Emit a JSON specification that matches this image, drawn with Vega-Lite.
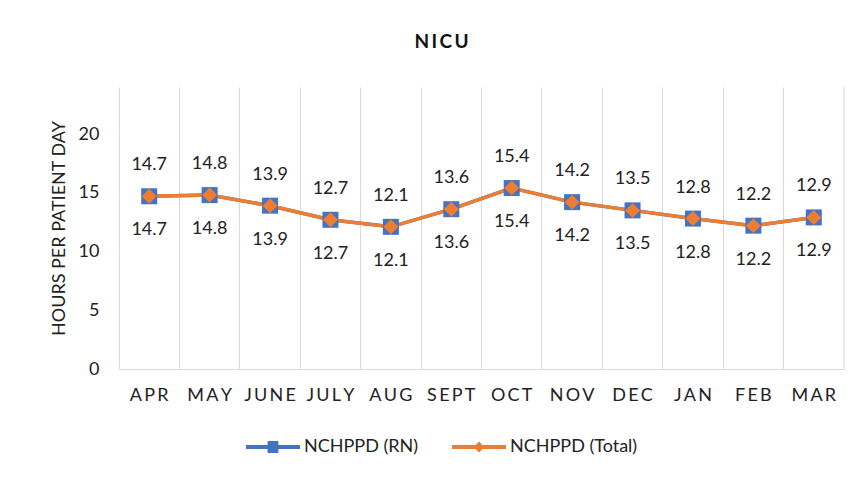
{
  "$schema": "https://vega.github.io/schema/vega-lite/v6.json",
  "autosize": "none",
  "width": 725,
  "height": 282,
  "padding": {"left": 119, "top": 87, "right": 21, "bottom": 110},
  "background": "white",
  "config": {
    "font": "Lato",
    "view": {"stroke": null},
    "axis": {"labelFont": "Lato", "titleFont": "Lato", "labelColor": "#222222", "titleColor": "#222222"}
  },
  "title": {
    "text": "N\u2009I\u2009C\u2009U",
    "font": "Lato",
    "fontSize": 19,
    "fontWeight": "bold",
    "color": "#111111",
    "anchor": "middle",
    "baseline": "alphabetic",
    "offset": 20,
    "dx": -40
  },
  "data": {
    "values": [
      {"month": "APR", "series": "NCHPPD (RN)", "value": 14.7},
      {"month": "MAY", "series": "NCHPPD (RN)", "value": 14.8},
      {"month": "JUNE", "series": "NCHPPD (RN)", "value": 13.9},
      {"month": "JULY", "series": "NCHPPD (RN)", "value": 12.7},
      {"month": "AUG", "series": "NCHPPD (RN)", "value": 12.1},
      {"month": "SEPT", "series": "NCHPPD (RN)", "value": 13.6},
      {"month": "OCT", "series": "NCHPPD (RN)", "value": 15.4},
      {"month": "NOV", "series": "NCHPPD (RN)", "value": 14.2},
      {"month": "DEC", "series": "NCHPPD (RN)", "value": 13.5},
      {"month": "JAN", "series": "NCHPPD (RN)", "value": 12.8},
      {"month": "FEB", "series": "NCHPPD (RN)", "value": 12.2},
      {"month": "MAR", "series": "NCHPPD (RN)", "value": 12.9},
      {"month": "APR", "series": "NCHPPD (Total)", "value": 14.7},
      {"month": "MAY", "series": "NCHPPD (Total)", "value": 14.8},
      {"month": "JUNE", "series": "NCHPPD (Total)", "value": 13.9},
      {"month": "JULY", "series": "NCHPPD (Total)", "value": 12.7},
      {"month": "AUG", "series": "NCHPPD (Total)", "value": 12.1},
      {"month": "SEPT", "series": "NCHPPD (Total)", "value": 13.6},
      {"month": "OCT", "series": "NCHPPD (Total)", "value": 15.4},
      {"month": "NOV", "series": "NCHPPD (Total)", "value": 14.2},
      {"month": "DEC", "series": "NCHPPD (Total)", "value": 13.5},
      {"month": "JAN", "series": "NCHPPD (Total)", "value": 12.8},
      {"month": "FEB", "series": "NCHPPD (Total)", "value": 12.2},
      {"month": "MAR", "series": "NCHPPD (Total)", "value": 12.9}
    ]
  },
  "encoding": {
    "x": {
      "field": "month",
      "type": "ordinal",
      "sort": ["APR", "MAY", "JUNE", "JULY", "AUG", "SEPT", "OCT", "NOV", "DEC", "JAN", "FEB", "MAR"],
      "scale": {"paddingInner": 0, "paddingOuter": 0},
      "axis": {
        "title": null,
        "labelAngle": 0,
        "labelFontSize": 18,
        "labelPadding": 17,
        "labelExpr": "join(split(datum.label, ''), '\u2009')",
        "ticks": false,
        "domainColor": "#d9d9d9",
        "domainWidth": 1,
        "grid": true,
        "gridColor": "#d9d9d9",
        "gridWidth": 1,
        "bandPosition": 0
      }
    },
    "y": {
      "field": "value",
      "type": "quantitative",
      "scale": {"domain": [0, 24], "nice": false},
      "axis": {
        "title": "HOURS PER PATIENT DAY",
        "titleFontSize": 18,
        "titleFontWeight": "normal",
        "titlePadding": 10,
        "values": [0, 5, 10, 15, 20],
        "labelFontSize": 18,
        "labelPadding": 20,
        "ticks": false,
        "domain": false,
        "grid": false
      }
    }
  },
  "layer": [
    {
      "transform": [{"filter": "datum.month === 'MAR' && datum.series === 'NCHPPD (RN)'"}],
      "mark": {"type": "rule", "color": "#d9d9d9", "strokeWidth": 1},
      "encoding": {
        "x": {"field": "month", "type": "ordinal", "sort": ["APR", "MAY", "JUNE", "JULY", "AUG", "SEPT", "OCT", "NOV", "DEC", "JAN", "FEB", "MAR"], "bandPosition": 1},
        "y": null
      }
    },
    {
      "mark": {"type": "line", "strokeWidth": 3.5},
      "encoding": {
        "color": {
          "field": "series",
          "type": "nominal",
          "scale": {"domain": ["NCHPPD (RN)", "NCHPPD (Total)"], "range": ["#4472C4", "#ED7D31"]},
          "legend": {
            "title": null,
            "orient": "none",
            "direction": "horizontal",
            "legendX": 127,
            "legendY": 333,
            "padding": 0,
            "symbolSize": 2916,
            "labelFontSize": 18,
            "labelFont": "Lato",
            "labelColor": "#222222",
            "labelOffset": 4,
            "columnPadding": 33,
            "encode": {
              "symbols": {
                "update": {
                  "shape": {"signal": "datum.value === 'NCHPPD (RN)' ? 'M-1,-0.075H1V0.075H-1Z M-0.2,-0.22H0.2V0.22H-0.2Z' : 'M-1,-0.075H1V0.075H-1Z M-0.2,0L0,-0.2L0.2,0L0,0.2Z'"},
                  "size": {"value": 2916},
                  "fill": {"signal": "datum.value === 'NCHPPD (RN)' ? '#4472C4' : '#ED7D31'"},
                  "fillOpacity": {"value": 1},
                  "opacity": {"value": 1},
                  "strokeWidth": {"value": 0}
                }
              }
            }
          }
        }
      }
    },
    {
      "transform": [{"filter": "datum.series === 'NCHPPD (RN)'"}],
      "mark": {"type": "point", "shape": "square", "filled": true, "size": 256, "color": "#4472C4", "opacity": 1}
    },
    {
      "transform": [{"filter": "datum.series === 'NCHPPD (Total)'"}],
      "mark": {"type": "point", "shape": "diamond", "filled": true, "size": 225, "color": "#ED7D31", "opacity": 1}
    },
    {
      "transform": [{"filter": "datum.series === 'NCHPPD (RN)'"}],
      "mark": {"type": "text", "font": "Lato", "fontSize": 18, "color": "#222222", "baseline": "middle", "dy": -31},
      "encoding": {"text": {"field": "value", "type": "quantitative", "format": ".1f"}}
    },
    {
      "transform": [{"filter": "datum.series === 'NCHPPD (Total)'"}],
      "mark": {"type": "text", "font": "Lato", "fontSize": 18, "color": "#222222", "baseline": "middle", "dy": 34},
      "encoding": {"text": {"field": "value", "type": "quantitative", "format": ".1f"}}
    }
  ]
}
